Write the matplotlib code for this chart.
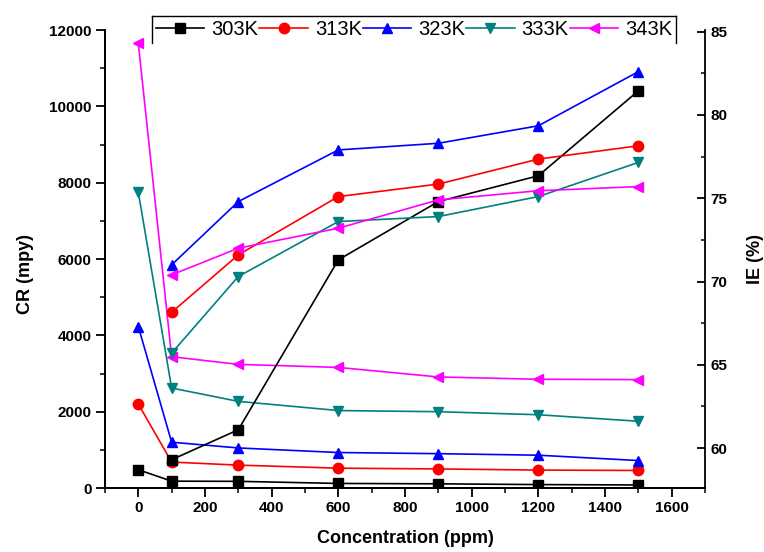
import matplotlib
matplotlib.use("Agg")
import matplotlib.pyplot as plt
from matplotlib.lines import Line2D
from matplotlib.ticker import MultipleLocator

plt.rcParams["font.family"] = ["Liberation Sans", "DejaVu Sans"]

# --- Данные ---
temps = ["303K", "313K", "323K", "333K", "343K"]
colors = ["#000000", "#ff0000", "#0000ff", "#008080", "#ff00ff"]
markers = ["s", "o", "^", "v", "<"]

conc_cr = [0, 100, 300, 600, 900, 1200, 1500]
conc_ie = [100, 300, 600, 900, 1200, 1500]

# скорость коррозии, mpy
cr_303 = [480, 180, 175, 120, 110, 90, 80]
cr_313 = [2200, 680, 600, 520, 500, 470, 460]
cr_323 = [4230, 1200, 1050, 930, 900, 860, 720]
cr_333 = [7750, 2620, 2270, 2030, 2000, 1920, 1750]
cr_343 = [11650, 3440, 3240, 3160, 2910, 2850, 2840]

# эффективность ингибирования, %
ie_303 = [59.3, 61.1, 71.3, 74.8, 76.35, 81.45]
ie_313 = [68.15, 71.6, 75.1, 75.85, 77.35, 78.15]
ie_323 = [71.0, 74.8, 77.9, 78.3, 79.35, 82.6]
ie_333 = [65.7, 70.3, 73.6, 73.9, 75.1, 77.15]
ie_343 = [70.4, 72.0, 73.2, 74.9, 75.45, 75.7]

cr_all = [cr_303, cr_313, cr_323, cr_333, cr_343]
ie_all = [ie_303, ie_313, ie_323, ie_333, ie_343]

fig = plt.figure(figsize=(7.64, 5.52), dpi=100)
ax = fig.add_axes([0.1374, 0.1159, 0.7854, 0.8297])
ax2 = ax.twinx()

handles = []
for t, c, m, cr, ie in zip(temps, colors, markers, cr_all, ie_all):
    h, = ax.plot(conc_cr, cr, color=c, marker=m, markersize=7.5, linewidth=1.2, label=t)
    ax2.plot(conc_ie, ie, color=c, marker=m, markersize=7.5, linewidth=1.2)
    handles.append(h)

ax.set_xlim(-100, 1700)
ax.set_ylim(0, 12000)
ax2.set_ylim(57.6, 85.1)

ax.xaxis.set_major_locator(MultipleLocator(200))
ax.xaxis.set_minor_locator(MultipleLocator(100))
ax.yaxis.set_major_locator(MultipleLocator(2000))
ax.yaxis.set_minor_locator(MultipleLocator(1000))
ax2.yaxis.set_major_locator(MultipleLocator(5))
ax2.yaxis.set_minor_locator(MultipleLocator(2.5))

for a in (ax, ax2):
    a.spines["top"].set_visible(False)
    for s in a.spines.values():
        s.set_linewidth(1.3)
ax.spines["right"].set_visible(False)

ax.tick_params(axis="both", which="major", direction="out", length=6.5, width=1.3,
               labelsize=11, pad=3)
ax.tick_params(axis="both", which="minor", direction="out", length=3.5, width=1.1)
ax2.tick_params(axis="y", which="major", direction="in", length=5.5, width=1.3,
                labelsize=11, pad=4)
ax2.tick_params(axis="y", which="minor", direction="in", length=3, width=1.1)
for lbl in ax.get_xticklabels() + ax.get_yticklabels() + ax2.get_yticklabels():
    lbl.set_fontweight("bold")

ax.set_xlabel("Concentration (ppm)", fontsize=13, fontweight="bold", labelpad=11)
ax.set_ylabel("CR (mpy)", fontsize=13, fontweight="bold")
ax.yaxis.set_label_coords(-0.118, 0.467)
ax2.set_ylabel("IE (%)", fontsize=13, fontweight="bold", labelpad=14)

leg = fig.legend(handles=handles, loc="upper left", bbox_to_anchor=(0.199, 0.971),
                 bbox_transform=fig.transFigure, ncol=5, frameon=False,
                 fontsize=14.5, handlelength=2.4, handletextpad=0.35,
                 columnspacing=0.05, borderpad=0.2, borderaxespad=0)

# рамка легенды без нижней стороны
fig.canvas.draw()
bb = leg.get_window_extent().transformed(fig.transFigure.inverted())
for xs, ys in [([bb.x0, bb.x0], [bb.y0, bb.y1]),
               ([bb.x0, bb.x1], [bb.y1, bb.y1]),
               ([bb.x1, bb.x1], [bb.y0, bb.y1])]:
    fig.add_artist(Line2D(xs, ys, transform=fig.transFigure, color="black", linewidth=1.0))

fig.savefig("out.png", dpi=100)
